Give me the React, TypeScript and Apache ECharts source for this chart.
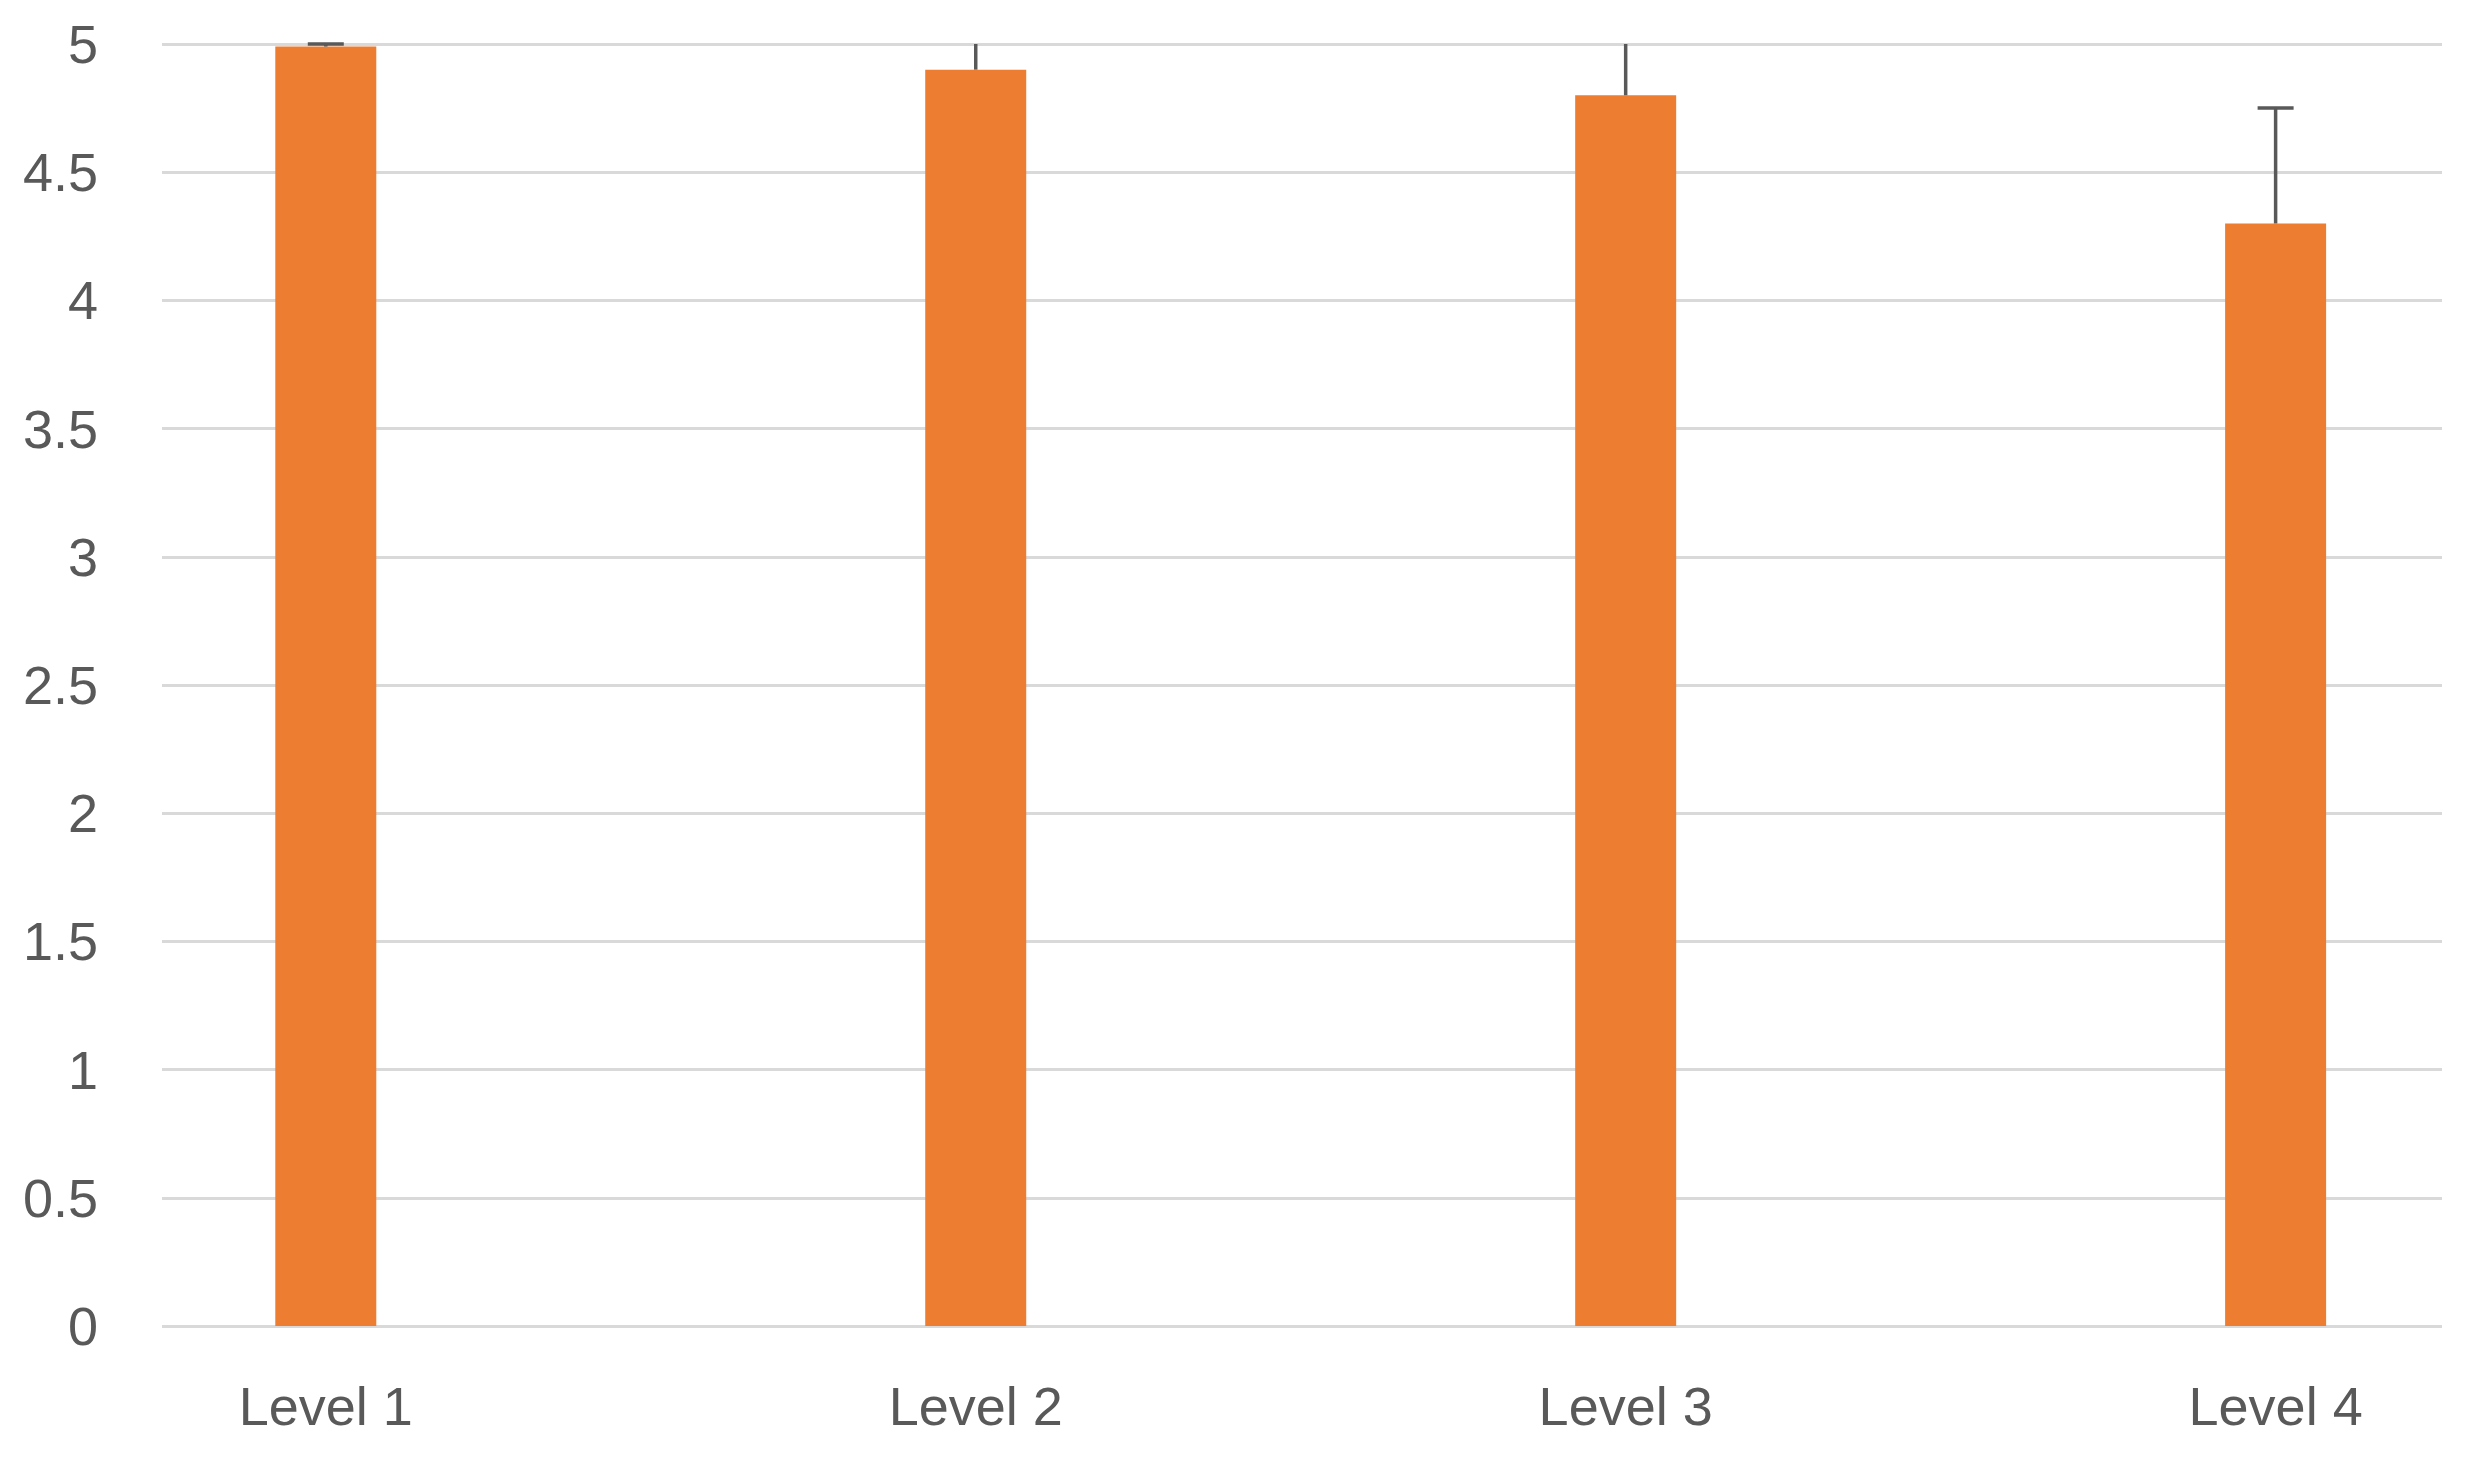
import React, { useEffect, useRef } from "react";
import * as echarts from "echarts";

const categories = ["Level 1", "Level 2", "Level 3", "Level 4"];
const values = [4.99, 4.9, 4.8, 4.3];
const errors = [0.01, 0.3, 0.4, 0.45];
const yTicks = [0, 0.5, 1, 1.5, 2, 2.5, 3, 3.5, 4, 4.5, 5];

const Y_MAX = 5;
const FONT = "'Liberation Sans', Arial, sans-serif";
const TEXT_COLOR = "#595959";

export default function App() {
  const ref = useRef<HTMLDivElement>(null);

  useEffect(() => {
    if (!ref.current) return;
    const chart = echarts.init(ref.current, null, { renderer: "svg" });
    const positions = categories.map((_, i) => i);
    const barData = positions.map((p, i) => [p, values[i]]);
    const errData = positions.map((p, i) => [p, values[i], errors[i]]);

    chart.setOption({
      animation: false,
      backgroundColor: "#ffffff",
      grid: { left: 162, right: 24, top: 44, bottom: 134, containLabel: false },
      xAxis: {
        type: "value",
        min: -0.252,
        max: 3.256,
        axisLine: { show: false },
        axisTick: { show: false },
        splitLine: { show: false },
        axisLabel: {
          customValues: positions,
          formatter: (v: number) => categories[Math.round(v)] ?? "",
          color: TEXT_COLOR,
          fontFamily: FONT,
          fontSize: 54,
          lineHeight: 54,
          margin: 53,
        },
      },
      yAxis: {
        type: "value",
        min: 0,
        max: Y_MAX,
        interval: 0.5,
        axisLine: { show: false },
        axisTick: { show: false },
        splitLine: { show: true, lineStyle: { color: "#d9d9d9", width: 3 } },
        axisLabel: {
          color: TEXT_COLOR,
          fontFamily: FONT,
          fontSize: 54,
          margin: 64,
          customValues: yTicks,
        },
      },
      series: [
        {
          type: "bar",
          data: barData,
          barWidth: 101,
          itemStyle: { color: "#ed7d31" },
          z: 2,
        },
        {
          type: "custom",
          data: errData,
          z: 3,
          renderItem: (params: any, api: any) => {
            const x = api.value(0);
            const y = api.value(1);
            const e = api.value(2);
            const top = Math.min(y + e, Y_MAX);
            const p0 = api.coord([x, y]);
            const p1 = api.coord([x, top]);
            const style = { stroke: "#595959", lineWidth: 3.5 };
            const children: any[] = [
              {
                type: "line",
                shape: { x1: p0[0], y1: p0[1], x2: p1[0], y2: p1[1] },
                style,
              },
            ];
            if (y + e <= Y_MAX) {
              children.push({
                type: "line",
                shape: { x1: p1[0] - 18, y1: p1[1], x2: p1[0] + 18, y2: p1[1] },
                style,
              });
            }
            return { type: "group", children };
          },
        },
      ],
    });
    return () => chart.dispose();
  }, []);

  return (
    <div
      ref={ref}
      style={{ position: "fixed", left: 0, top: 0, width: 2466, height: 1460 }}
    />
  );
}
